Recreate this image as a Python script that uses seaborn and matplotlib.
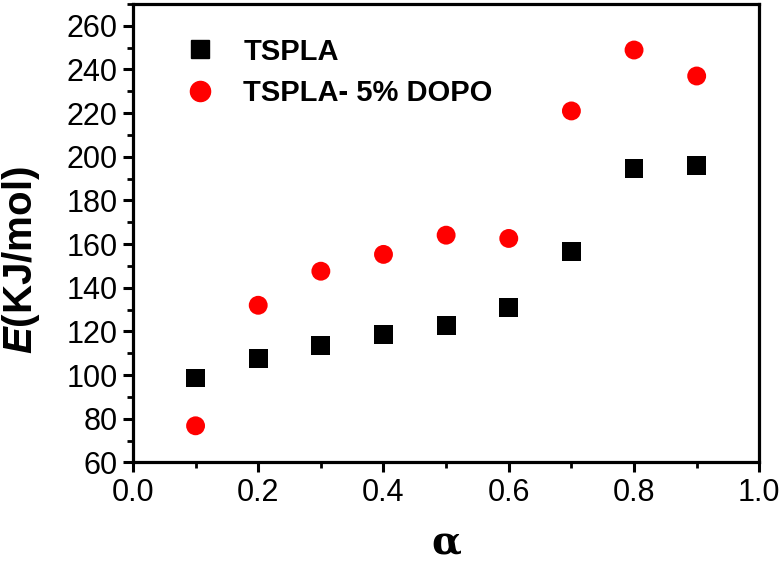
import pandas as pd
import seaborn as sns
import matplotlib.pyplot as plt
from matplotlib.ticker import MultipleLocator

# values
alpha = [0.1, 0.2, 0.3, 0.4, 0.5, 0.6, 0.7, 0.8, 0.9]
tspla = [98.7, 107.6, 113.7, 118.6, 122.7, 131.1, 156.8, 194.7, 196.2]
tspla_dopo = [76.8, 132.0, 147.6, 155.3, 164.1, 162.6, 221.0, 248.9, 237.0]
series_names = ['TSPLA', 'TSPLA- 5% DOPO']

df = pd.DataFrame({
    'alpha': alpha * 2,
    'E': tspla + tspla_dopo,
    'sample': [series_names[0]] * len(alpha) + [series_names[1]] * len(alpha),
})

sns.set_style('ticks')
plt.rcParams['font.family'] = ['Liberation Sans', 'DejaVu Sans']
plt.rcParams['text.color'] = 'black'
plt.rcParams['xtick.color'] = 'black'
plt.rcParams['ytick.color'] = 'black'
plt.rcParams['axes.labelcolor'] = 'black'
# bold italic E in the y label
plt.rcParams['mathtext.fontset'] = 'custom'
plt.rcParams['mathtext.it'] = 'Liberation Sans:bold:italic'

fig = plt.figure(figsize=(7.82, 5.64), dpi=100)
ax = fig.add_axes([0.170, 0.180, 0.801, 0.813])

sns.scatterplot(
    data=df, x='alpha', y='E', hue='sample', style='sample',
    palette={series_names[0]: 'black', series_names[1]: '#ff0000'},
    markers={series_names[0]: 's', series_names[1]: 'o'},
    s=185, linewidth=0, ax=ax, legend=False
)

# legend built by hand so marker sizes match the plot
for name, mk, col, ms in [(series_names[0], 's', 'black', 13), (series_names[1], 'o', '#ff0000', 14.5)]:
    ax.plot([], [], linestyle='none', marker=mk, color=col, markersize=ms, label=name)
leg = ax.legend(loc='upper left', frameon=False, bbox_to_anchor=(0.06, 0.952),
                prop={'size': 21, 'weight': 'bold'},
                handletextpad=0.9, labelspacing=0.45, borderaxespad=0, handlelength=1.2)

ax.set_xlim(0, 1.0)
ax.set_ylim(60, 270)
ax.xaxis.set_major_locator(MultipleLocator(0.2))
ax.xaxis.set_minor_locator(MultipleLocator(0.1))
ax.yaxis.set_minor_locator(MultipleLocator(10))
ax.set_yticks(range(60, 261, 20))

for side in ['top', 'right', 'left', 'bottom']:
    ax.spines[side].set_visible(True)
    ax.spines[side].set_linewidth(2.3)
    ax.spines[side].set_color('black')

ax.tick_params(which='major', direction='out', length=7, width=2.2, labelsize=22, pad=4)
ax.tick_params(which='minor', direction='out', length=4, width=2.0)
ax.tick_params(top=False, right=False, which='both')

ax.set_xlabel('α', fontsize=28, fontweight='bold', family='DejaVu Serif')
ax.xaxis.set_label_coords(0.5, -0.133)
ax.set_ylabel(r'$E$(KJ/mol)', fontsize=29, fontweight='bold')
ax.yaxis.set_label_coords(-0.145, 0.442)

plt.savefig('out.png', dpi=100)
